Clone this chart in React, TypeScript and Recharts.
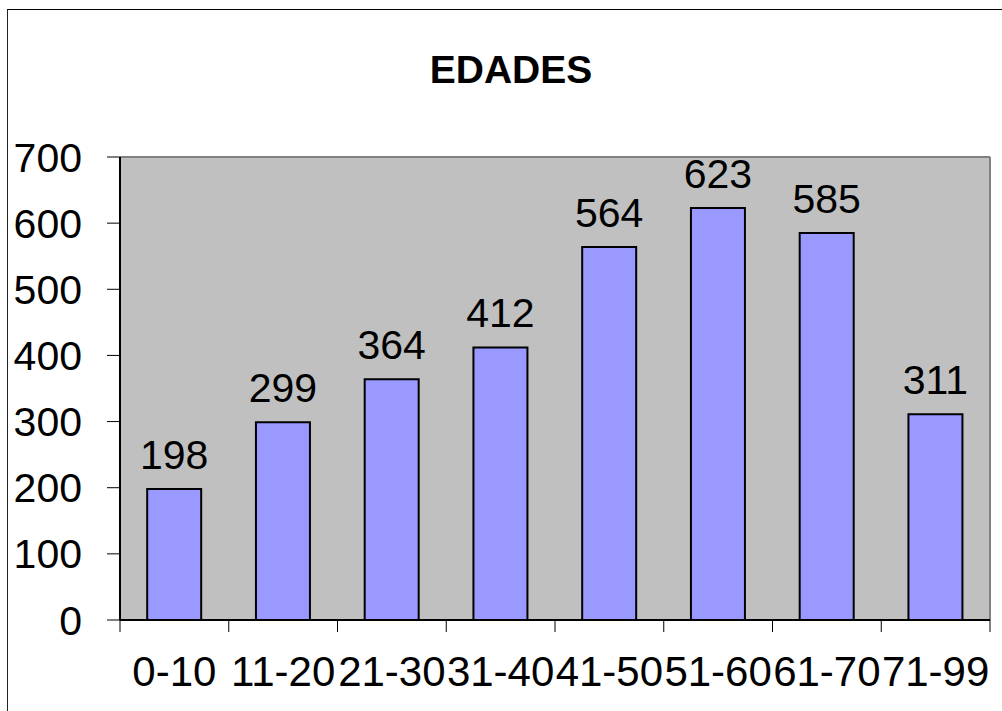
import React from 'react';
import { BarChart, Bar, XAxis, YAxis, CartesianGrid, LabelList, ReferenceLine } from 'recharts';

const categories = ['0-10', '11-20', '21-30', '31-40', '41-50', '51-60', '61-70', '71-99'];
const counts = [198, 299, 364, 412, 564, 623, 585, 311];
const yTicks = [0, 100, 200, 300, 400, 500, 600, 700];
const boundaryTicks = [0, 1, 2, 3, 4, 5, 6, 7, 8];

const FONT = '"Liberation Sans", Arial, sans-serif';

const App = () => {
  const data = categories.map((name, i) => ({ name, value: counts[i] }));

  return (
    <div style={{ position: 'absolute', left: 0, top: 0, width: 1002, height: 711, background: '#fff', fontFamily: FONT }}>
      {/* outer frame */}
      <div
        style={{
          position: 'absolute',
          left: 7,
          top: 9,
          width: 1002,
          height: 711,
          borderTop: '1px solid #000',
          borderLeft: '1px solid #222',
        }}
      />
      <div
        style={{
          position: 'absolute',
          left: 0,
          width: 1022,
          top: 50,
          textAlign: 'center',
          fontWeight: 'bold',
          fontSize: 39,
          lineHeight: '39px',
          color: '#000',
        }}
      >
        EDADES
      </div>
      <div style={{ position: 'absolute', left: 0, top: 0 }}>
        <BarChart
          width={1002}
          height={711}
          data={data}
          margin={{ top: 157, right: 12, bottom: 0, left: 0 }}
          barCategoryGap="25%"
        >
          <CartesianGrid xAxisId="b" horizontal={false} vertical={false} fill="#C0C0C0" stroke="none" />
          {/* category boundary ticks, sits right under the plot */}
          <XAxis
            xAxisId="a"
            type="number"
            dataKey="value"
            domain={[0, 8]}
            ticks={boundaryTicks}
            height={12}
            tickFormatter={() => ''}
            tickSize={12}
            tickMargin={0}
            axisLine={{ stroke: '#000', strokeWidth: 2 }}
            tickLine={{ stroke: '#000', strokeWidth: 1 }}
            allowDataOverflow
          />
          <XAxis
            xAxisId="b"
            dataKey="name"
            height={79}
            axisLine={false}
            tickLine={false}
            tickSize={0}
            tickMargin={24}
            interval={0}
            tick={{ fill: '#000', fontSize: 42, fontFamily: FONT }}
          />
          <YAxis
            width={120}
            domain={[0, 700]}
            ticks={yTicks}
            interval={0}
            tickSize={13}
            tickMargin={25}
            axisLine={{ stroke: '#000', strokeWidth: 2 }}
            tickLine={{ stroke: '#000', strokeWidth: 1 }}
            tick={{ fill: '#000', fontSize: 41, fontFamily: FONT }}
          />
          <ReferenceLine xAxisId="b" y={700} stroke="#808080" strokeWidth={2} />
          <ReferenceLine xAxisId="a" x={8} stroke="#808080" strokeWidth={2} />
          <Bar xAxisId="b" dataKey="value" fill="#9999FF" stroke="#000" strokeWidth={2} isAnimationActive={false}>
            <LabelList dataKey="value" position="top" offset={20} fill="#000" fontSize={41} fontFamily={FONT} />
          </Bar>
        </BarChart>
      </div>
    </div>
  );
};

export default App;
